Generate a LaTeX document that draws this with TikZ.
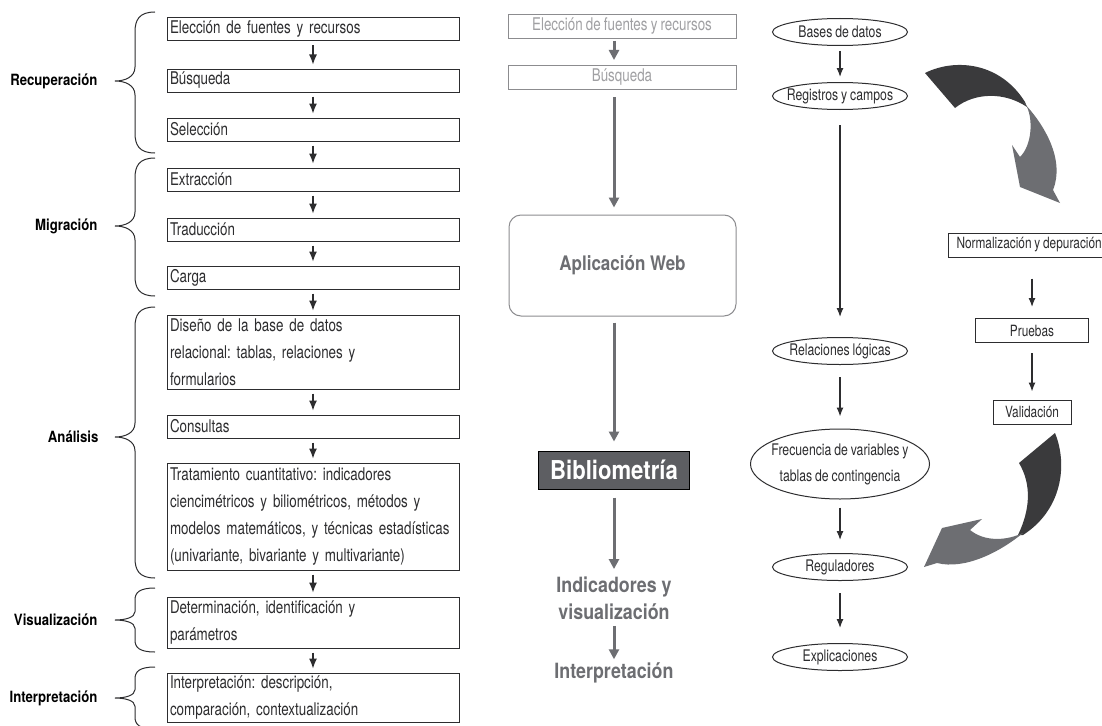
\documentclass[tikz,border=0pt]{standalone}
\usepackage{fontspec}
\usepackage{xcolor}
\usepackage{tikz}
\usetikzlibrary{shapes.geometric, arrows.meta, positioning, calc}
\setmainfont{TeX Gyre Heros}
\newfontfamily\narrowfont[FakeStretch=0.765, WordSpace=0.85]{TeX Gyre Heros}
\newfontfamily\widefont[FakeStretch=0.85]{TeX Gyre Heros}
\definecolor{inkDark}{RGB}{45, 45, 47}
\definecolor{arrowGray}{RGB}{109, 110, 114}
\definecolor{arrowDark}{RGB}{58, 58, 60}
\definecolor{ghostGray}{RGB}{140, 140, 143}
\definecolor{ghostText}{RGB}{160, 160, 163}
\definecolor{biblioFill}{RGB}{93, 94, 98}
\frenchspacing

% top, bottom, tip, curl length
\newcommand{\phasebrace}[4]{%
  \draw[line width=1pt, inkDark] (155,#1) .. controls (139,#1) and (135,{#1+0.4*#4}) .. (135,{#1+#4})
    -- (135,{#3-0.7*#4}) .. controls (135,{#3-0.2*#4}) and (125,#3) .. (115,#3)
    .. controls (125,#3) and (135,{#3+0.2*#4}) .. (135,{#3+0.7*#4})
    -- (135,{#2-#4}) .. controls (135,{#2-0.4*#4}) and (139,#2) .. (155,#2);}

\begin{document}
\begin{tikzpicture}[
    x=1pt, y=-1pt,
    stage/.style={rectangle, draw=inkDark, line width=1pt, minimum width=292pt, minimum height=23pt, text width=286pt, inner xsep=3pt, inner ysep=1pt, align=left, text=inkDark, font=\narrowfont\fontsize{17.5}{27}\selectfont},
    phase/.style={anchor=east, text=black, font=\widefont\bfseries\fontsize{15.5}{18}\selectfont},
    flow/.style={-{Latex[length=10pt,width=8pt]}, line width=1.2pt, inkDark, shorten <=4pt, shorten >=4pt},
    ghost/.style={rectangle, draw=ghostGray, line width=1pt, minimum width=228pt, minimum height=24pt, inner sep=0pt, text=ghostText, font=\narrowfont\fontsize{17.5}{20}\selectfont},
    midtext/.style={text=arrowGray, align=center, font=\widefont\bfseries\fontsize{21}{27}\selectfont},
    bigflow/.style={-{Triangle[length=10pt,width=10pt]}, line width=3pt, arrowGray},
    oval/.style={ellipse, draw=inkDark, line width=1pt, inner sep=-6pt, minimum width=135pt, minimum height=27pt, text=inkDark, align=center, font=\narrowfont\fontsize{16}{26}\selectfont},
    check/.style={rectangle, draw=inkDark, line width=1pt, minimum height=24pt, inner xsep=9pt, inner ysep=0pt, text=inkDark, font=\narrowfont\fontsize{15.5}{18}\selectfont},
    link/.style={-{Latex[length=9pt,width=7pt]}, line width=1.2pt, inkDark}
]
    \path[use as bounding box, fill=white] (0,0) rectangle (1102,725);

    % process steps
    \node[stage] (eleccion) at (313,29.5) {Elección de fuentes y recursos};
    \node[stage] (busqueda) at (313,80.5) {Búsqueda};
    \node[stage] (seleccion) at (313,129.5) {Selección};
    \node[stage] (extraccion) at (313,179.5) {Extracción};
    \node[stage] (traduccion) at (313,229.5) {Traducción};
    \node[stage] (carga) at (313,277.5) {Carga};
    \node[stage, minimum height=74pt] (diseno) at (313,352) {Diseño de la base de datos\\relacional: tablas, relaciones y\\formularios};
    \node[stage] (consultas) at (313,426.5) {Consultas};
    \node[stage, minimum height=107pt] (tratamiento) at (313,516.5) {Tratamiento cuantitativo: indicadores\\ciencimétricos y biliométricos, métodos y\\modelos matemáticos, y técnicas estadísticas\\(univariante, bivariante y multivariante)};
    \node[stage, minimum height=51pt] (determinacion) at (313,622.5) {Determinación, identificación y\\parámetros};
    \node[stage, minimum height=49pt] (interpretacion) at (313,697.5) {Interpretación: descripción,\\comparación, contextualización};

    \draw[flow] (eleccion) -- (busqueda);
    \draw[flow] (busqueda) -- (seleccion);
    \draw[flow] (seleccion) -- (extraccion);
    \draw[flow] (extraccion) -- (traduccion);
    \draw[flow] (traduccion) -- (carga);
    \draw[flow] (carga) -- (diseno);
    \draw[flow] (diseno) -- (consultas);
    \draw[flow] (consultas) -- (tratamiento);
    \draw[flow] (tratamiento) -- (determinacion);
    \draw[flow] (determinacion) -- (interpretacion);

    % phases
    \phasebrace{12}{153}{81}{20}
    \node[phase] (recuperacion) at (101,81) {Recuperación};
    \phasebrace{158}{296}{226}{20}
    \node[phase] (migracion) at (101,226) {Migración};
    \phasebrace{307}{578}{437}{20}
    \node[phase] (analisis) at (102,437) {Análisis};
    \phasebrace{588}{652}{620}{12}
    \node[phase] (visualizacion) at (101,620) {Visualización};
    \phasebrace{667}{729}{698}{12}
    \node[phase] (interpretacionA) at (101,698) {Interpretación};

    % web application
    \node[ghost] (eleccionB) at (622,26.5) {Elección de fuentes y recursos};
    \node[ghost] (busquedaB) at (622,77.5) {Búsqueda};
    \node[draw=ghostGray, line width=1pt, rounded corners=12pt, minimum width=227pt, minimum height=101pt, text=arrowGray, font=\widefont\bfseries\fontsize{20}{24}\selectfont] (webapp) at (622.5,265.5) {Aplicación Web};
    \node[draw=black, fill=biblioFill, line width=1pt, minimum width=151pt, minimum height=38pt, inner sep=0pt, text=white, font=\widefont\bfseries\fontsize{26}{30}\selectfont] (biblio) at (614,470) {Bibliometría};
    \node[midtext] (indicadores) at (614,598) {Indicadores y\\visualización};
    \node[midtext] (interpretacionB) at (614,673) {Interpretación};

    \draw[bigflow, shorten <=2pt, shorten >=5pt] (eleccionB.south -| biblio) -- (busquedaB.north -| biblio);
    \draw[bigflow, shorten <=7pt, shorten >=7pt] (busquedaB.south -| biblio) -- (webapp.north -| biblio);
    \draw[bigflow, shorten <=6pt, shorten >=9pt] (webapp.south -| biblio) -- (biblio.north);
    \draw[bigflow, shorten <=8pt, shorten >=4pt] (biblio) -- (indicadores);
    \draw[bigflow, shorten <=3pt, shorten >=0pt] (indicadores) -- (interpretacionB);

    % data model
    \node[oval] (bases) at (840,32) {Bases de datos};
    \node[oval] (registros) at (840,96) {Registros y campos};
    \node[oval] (relaciones) at (840,351) {Relaciones lógicas};
    \node[oval, minimum width=179pt, minimum height=70pt] (frecuencia) at (840,464) {Frecuencia de variables y\\tablas de contingencia};
    \node[oval] (reguladores) at (840,567) {Reguladores};
    \node[oval] (explicaciones) at (840,657) {Explicaciones};

    \draw[link, shorten <=5pt, shorten >=5pt] (bases) -- (registros);
    \draw[link, shorten <=15pt, shorten >=20pt] (registros) -- (relaciones);
    \draw[link, shorten <=12pt, shorten >=12pt] (relaciones) -- (frecuencia);
    \draw[link, shorten <=8pt, shorten >=13pt] (frecuencia) -- (reguladores);
    \draw[link, shorten <=12pt, shorten >=15pt] (reguladores) -- (explicaciones);

    % checks
    \node[check, anchor=west, inner xsep=8pt] (normalizacion) at (948,245) {Normalización y depuración\hspace*{24pt}};
    \node[check, minimum width=113pt] (pruebas) at (1032,330.5) {Pruebas};
    \node[check, minimum width=78pt] (validacion) at (1032,412) {Validación};

    \draw[link, shorten <=21pt, shorten >=11pt] (normalizacion.south -| pruebas) -- (pruebas);
    \draw[link, shorten <=10pt, shorten >=8pt] (pruebas) -- (validacion);

    % curved arrows
    \fill[arrowDark] (925,73) .. controls (955,58) and (1000,62) .. (1025,102) -- (1027,107) .. controls (1005,92) and (975,92) .. (955,108) -- cycle;
    \fill[arrowGray] (1023,102) .. controls (1045,125) and (1065,160) .. (1053,190) -- (1060,203) -- (1020,187) -- (1012,145) -- (1020,157) .. controls (1032,145) and (1033,120) .. (1027,107) -- cycle;
    \fill[arrowDark] (1055,433) .. controls (1068,465) and (1062,510) .. (1023,535) -- (1018,535) .. controls (1030,510) and (1032,485) .. (1019,463) -- cycle;
    \fill[arrowGray] (1023,533) .. controls (1000,552) and (965,570) .. (937,563) -- (924,567) -- (942,528) -- (982,519) -- (970,530) .. controls (985,542) and (1005,540) .. (1018,535) -- cycle;
\end{tikzpicture}
\end{document}
